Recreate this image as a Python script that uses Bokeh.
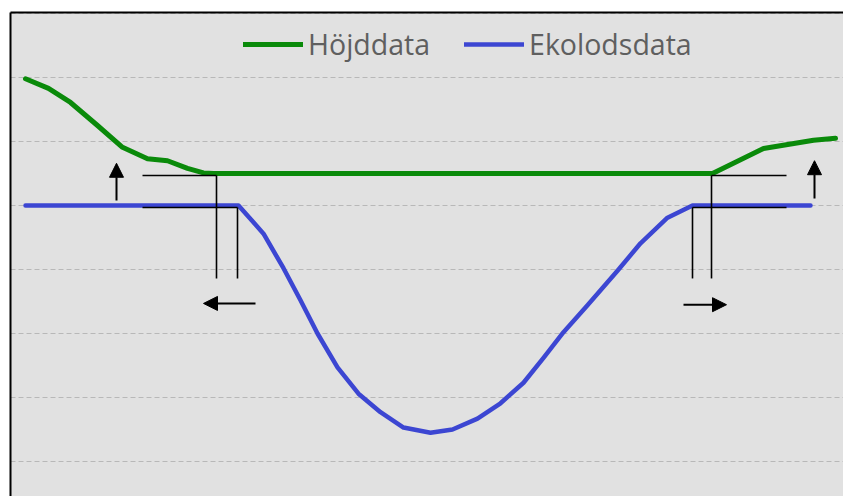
from bokeh.plotting import figure
from bokeh.models import (Range1d, FixedTicker, Legend, LegendItem, Arrow,
                          NormalHead)
from bokeh.embed import file_html
from bokeh.resources import INLINE

# --- data -------------------------------------------------------------
# Höjddata (terrain height), x in m along profile, y in m
green_x = [1.5, 3.8, 6.0, 8.7, 11.2, 13.7, 15.7, 17.7, 19.3, 20.3,
           70.2, 75.3, 80.3, 82.5]
green_y = [1.98, 1.83, 1.61, 1.25, 0.91, 0.73, 0.70, 0.58, 0.51, 0.50,
           0.50, 0.89, 1.02, 1.05]

# Ekolodsdata (echo sounder depth)
blue_x = [1.5, 22.8, 25.3, 27.3, 29.0, 30.7, 32.7, 34.8, 37.0, 39.3, 42.0,
          44.2, 46.7, 49.0, 51.3, 53.3, 55.3, 57.7, 60.7, 63.0, 65.7, 68.2,
          80.0]
blue_y = [0.0, 0.0, -0.44, -0.98, -1.48, -2.0, -2.53, -2.94, -3.23, -3.47,
          -3.55, -3.50, -3.33, -3.09, -2.77, -2.38, -1.98, -1.56, -1.02,
          -0.59, -0.19, 0.0, 0.0]

# guide lines marking the shore edges
guide_x0 = [13.2, 13.2, 20.6, 22.7, 70.1, 68.2, 70.1, 68.2]
guide_y0 = [0.47, -0.03, 0.47, -0.03, 0.47, -0.03, 0.47, -0.03]
guide_x1 = [20.6, 22.7, 20.6, 22.7, 77.6, 77.6, 70.1, 68.2]
guide_y1 = [0.47, -0.03, -1.14, -1.14, 0.47, -0.03, -1.14, -1.14]

# arrows (start -> end)
arrow_x0 = [10.6, 80.4, 24.5, 67.3]
arrow_y0 = [0.08, 0.11, -1.53, -1.55]
arrow_x1 = [10.6, 80.4, 19.3, 71.6]
arrow_y1 = [0.66, 0.70, -1.53, -1.55]

grid_y = [-4, -3, -2, -1, 0, 1, 2, 3]
labels = ["Höjddata", "Ekolodsdata"]

GREEN = "#0a8a0a"
BLUE = "#3c46d2"

p = figure(width=843, height=496, output_backend="svg", toolbar_location=None,
           x_range=Range1d(0, 83.3), y_range=Range1d(-4.547, 3.016),
           x_axis_location="above", min_border_left=10, min_border_top=12,
           min_border_right=0, min_border_bottom=0)

p.background_fill_color = "#e1e1e1"
p.border_fill_color = "white"
p.outline_line_color = None

for ax in (p.xaxis[0], p.yaxis[0]):
    ax.ticker = FixedTicker(ticks=[])
    ax.major_tick_line_color = None
    ax.minor_tick_line_color = None
    ax.major_tick_out = 0
    ax.major_tick_in = 0
    ax.minor_tick_out = 0
    ax.minor_tick_in = 0
    ax.major_label_standoff = 0
    ax.axis_line_color = "black"
    ax.axis_line_width = 2

p.xgrid.visible = False
p.ygrid.ticker = FixedTicker(ticks=grid_y)
p.ygrid.grid_line_color = "#b8b8b8"
p.ygrid.grid_line_dash = "5 3"
p.ygrid.grid_line_width = 1

g = p.line(green_x, green_y, line_color=GREEN, line_width=5,
           line_cap="round", line_join="round")
b = p.line(blue_x, blue_y, line_color=BLUE, line_width=4.5,
           line_cap="round", line_join="round")

p.segment(x0=guide_x0, y0=guide_y0, x1=guide_x1, y1=guide_y1,
          line_color="black", line_width=1.6)

for xs, ys, xe, ye in zip(arrow_x0, arrow_y0, arrow_x1, arrow_y1):
    p.add_layout(Arrow(x_start=xs, y_start=ys, x_end=xe, y_end=ye,
                       line_color="black", line_width=2,
                       end=NormalHead(size=14, fill_color="black",
                                      line_color="black", line_width=1)))

legend = Legend(items=[LegendItem(label=labels[0], renderers=[g]),
                       LegendItem(label=labels[1], renderers=[b])],
                orientation="horizontal", location=(233, 433),
                glyph_width=60, glyph_height=30, label_height=30,
                label_standoff=5, spacing=34, padding=0, margin=0,
                border_line_color=None, background_fill_alpha=0,
                label_text_font="Open Sans", label_text_font_size="28.5px",
                label_text_color="#5f5f5f")
p.add_layout(legend)

open("out.html", "w").write(file_html(p, INLINE))
